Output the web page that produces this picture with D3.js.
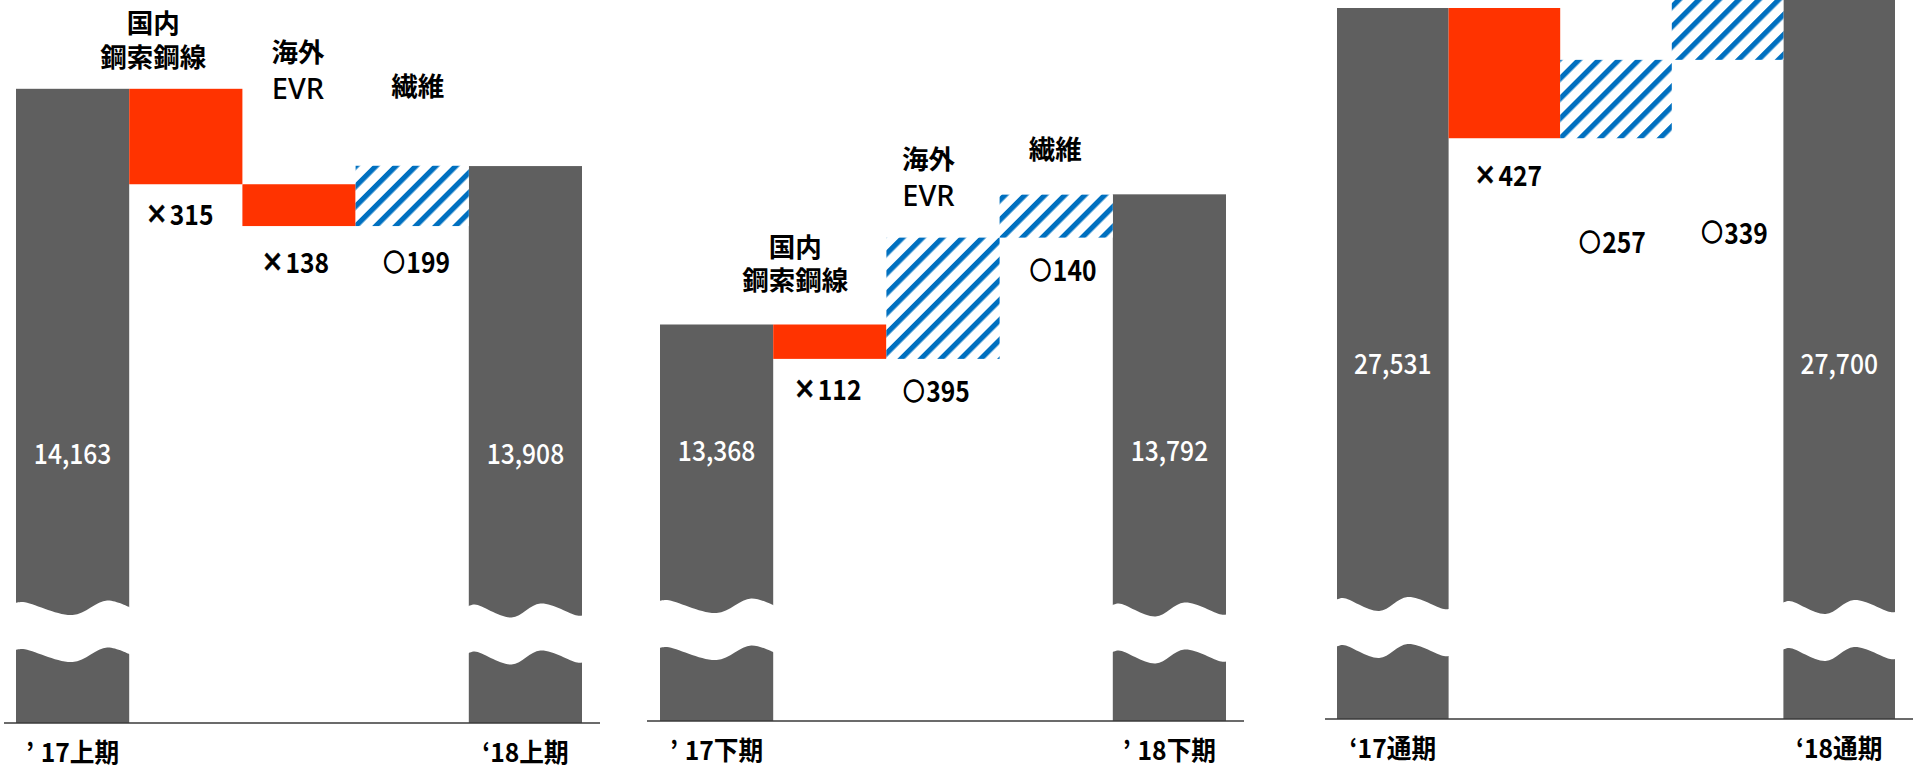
<!DOCTYPE html>
<html><head><meta charset="utf-8">
<script src="https://cdn.jsdelivr.net/npm/d3@7"></script>
<style>
html,body{margin:0;padding:0;background:#fff;overflow:hidden}
svg{display:block}
.cjk{font-family:"Noto Sans CJK JP","Noto Sans",sans-serif}
.num{font-family:"Noto Sans CJK JP","Noto Sans",sans-serif}
.lat{font-family:"Noto Sans","Liberation Sans",sans-serif}
</style></head><body>
<svg id="chart" width="1920" height="767"></svg>
<script>
// ---------------- data ----------------
const startLabels = ["’17上期", "’17下期", "‘17通期"];
const endLabels   = ["‘18上期", "’18下期", "‘18通期"];
const startValues = [14163, 13368, 27531];
const endValues   = [13908, 13792, 27700];
const stepCategories = [["国内", "鋼索鋼線"], ["海外", "EVR"], ["繊維"]];
const stepDeltas = [
  [-315, -138, 199],
  [-112, 395, 140],
  [-427, 257, 339]
];

// ---------------- layout (positions / styles only) ----------------
const layout = [
  {x: [16, 582],   axisY: 723, axisX: [4, 600],     anchor: 88.8,  k: 0.303, valueY: 452, breakY: [608, 610.5], wave: ["A", "B"], showCats: true},
  {x: [660, 1226], axisY: 721, axisX: [647, 1244],  anchor: 324.5, k: 0.307, valueY: 449, breakY: [606, 609.5], wave: ["A", "B"], showCats: true},
  {x: [1337, 1895],axisY: 719, axisX: [1325, 1913], anchor: 8,     k: 0.305, valueY: 362, breakY: [604, 607],   wave: ["B", "B"], showCats: false}
];
const catOffsets = [
  [{dx: -32.5, dy: [-67.5, -33]}, {dx: -1, dy: [-133.5, -96.5]}, {dx: 5.5, dy: [-81]}],
  [{dx: -34.5, dy: [-79.5, -46.5]}, {dx: -14.5, dy: [-80.6, -43.6]}, {dx: -1, dy: [-47.6]}],
  [null, null, null]
];
const chgOffsets = [
  [{dx: -6.5, dy: 28.5}, {dx: -4, dy: 34.5}, {dx: 4.5, dy: 34.5}],
  [{dx: -2.5, dy: 28.3}, {dx: -6.5, dy: 30.3}, {dx: 7, dy: 30.4}],
  [{dx: 3.5, dy: 34.8}, {dx: -3.5, dy: 101.8}, {dx: 7, dy: 171}]
];
const waveShapes = {
  A: [[0, -5], [0.07, -6], [0.5, 7], [0.8, -7.5], [1, -0.5]],
  B: [[0, -4], [0.06, -6], [0.38, 7], [0.63, -7], [0.95, 5], [1, 5]]
};
const BREAK_GAP = 47;
const NUM_SX = 0.88; // condensed look of the digits
const COLORS = {total: "#5F5F5F", down: "#FF3300", up: "url(#hatch)", axis: "#3a3a3a"};

// ---------------- drawing ----------------
const svg = d3.select("#chart");
const defs = svg.append("defs");
const pat = defs.append("pattern").attr("id", "hatch")
  .attr("patternUnits", "userSpaceOnUse")
  .attr("width", 14.1).attr("height", 14.1)
  .attr("patternTransform", "rotate(45)");
pat.append("rect").attr("width", 14.1).attr("height", 14.1).attr("fill", "#fff");
pat.append("rect").attr("width", 5.2).attr("height", 14.1).attr("fill", "#0070C0");

const curve = d3.line().curve(d3.curveCatmullRom.alpha(0.5));

function breakPath(x0, x1, c, shape) {
  const w = (x1 + 1) - (x0 - 1);
  const up = waveShapes[shape].map(([t, d]) => [x0 - 1 + t * w, c + d]);
  const lo = waveShapes[shape].map(([t, d]) => [x0 - 1 + t * w, c + BREAK_GAP + d]).reverse();
  return curve(up) + "L" + curve(lo).slice(1) + "Z";
}

layout.forEach((L, p) => {
  const g = svg.append("g");
  const x = d3.scaleBand().domain(d3.range(5)).range(L.x).paddingInner(0).paddingOuter(0);
  const y = d3.scaleLinear()
    .domain([startValues[p], startValues[p] - 1000])
    .range([L.anchor, L.anchor + 1000 * L.k]);

  // totals
  const totals = [
    {i: 0, v: startValues[p], label: startLabels[p], wave: L.wave[0], br: L.breakY[0]},
    {i: 4, v: endValues[p],   label: endLabels[p],   wave: L.wave[1], br: L.breakY[1]}
  ];
  g.selectAll("rect.total").data(totals).join("rect")
    .attr("class", "total")
    .attr("x", d => x(d.i)).attr("width", x.bandwidth())
    .attr("y", d => y(d.v)).attr("height", d => L.axisY - y(d.v))
    .attr("fill", COLORS.total);
  g.selectAll("path.brk").data(totals).join("path")
    .attr("class", "brk")
    .attr("d", d => breakPath(x(d.i), x(d.i) + x.bandwidth(), d.br, d.wave))
    .attr("fill", "#fff");

  // steps
  let run = startValues[p];
  const steps = stepDeltas[p].map((d, j) => {
    const a = run, b = run + d; run = b;
    return {j, d, top: Math.min(y(a), y(b)), bot: Math.max(y(a), y(b))};
  });
  g.selectAll("rect.step").data(steps).join("rect")
    .attr("class", "step")
    .attr("x", s => x(s.j + 1)).attr("width", x.bandwidth())
    .attr("y", s => s.top).attr("height", s => s.bot - s.top)
    .attr("fill", s => s.d < 0 ? COLORS.down : COLORS.up);

  // axis baseline
  g.append("line")
    .attr("x1", L.axisX[0]).attr("x2", L.axisX[1])
    .attr("y1", L.axisY).attr("y2", L.axisY)
    .attr("stroke", COLORS.axis).attr("stroke-width", 1.6);

  // total value labels
  g.selectAll("text.tv").data(totals).join("text")
    .attr("class", "tv num")
    .attr("transform", d => `translate(${x(d.i) + x.bandwidth() / 2},${L.valueY}) scale(${NUM_SX},1)`)
    .attr("text-anchor", "middle").attr("dominant-baseline", "central")
    .attr("fill", "#fff").attr("font-size", 28).attr("font-weight", 500)
    .text(d => d3.format(",")(d.v));

  // period labels
  g.selectAll("text.pl").data(totals).join("text")
    .attr("class", "pl cjk")
    .attr("transform", d => `translate(${x(d.i) + x.bandwidth() / 2},${L.axisY + 28}) scale(0.95,1)`)
    .attr("text-anchor", "middle").attr("dominant-baseline", "central")
    .attr("fill", "#000").attr("font-size", 26).attr("font-weight", "bold")
    .each(function (d) {
      const t = d3.select(this);
      const q = d.label.slice(0, 1);
      t.append("tspan").text(q);
      t.append("tspan").attr("dx", q === "’" ? 7 : 0).text(d.label.slice(1));
    });

  // change labels
  steps.forEach(s => {
    const o = chgOffsets[p][s.j];
    const t = g.append("text")
      .attr("transform", `translate(${x(s.j + 1) + x.bandwidth() / 2 + o.dx},${s.bot + o.dy}) scale(${NUM_SX},1)`)
      .attr("text-anchor", "middle").attr("dominant-baseline", "central")
      .attr("font-size", 28).attr("font-weight", "bold").attr("fill", "#000");
    t.append("tspan").attr("class", "cjk")
      .attr("font-size", s.d < 0 ? 26 : 24).attr("font-weight", 900)
      .attr("stroke", "#000").attr("stroke-width", s.d < 0 ? 0.6 : 1.3)
      .text(s.d < 0 ? "×" : "○");
    t.append("tspan").attr("class", "num").attr("dx", 2).text(Math.abs(s.d));
  });

  // category labels
  if (L.showCats) {
    steps.forEach(s => {
      const o = catOffsets[p][s.j];
      if (!o) return;
      stepCategories[s.j].forEach((line, li) => {
        const isLatin = /^[A-Za-z]+$/.test(line);
        g.append("text")
          .attr("class", isLatin ? "lat" : "cjk")
          .attr("x", x(s.j + 1) + x.bandwidth() / 2 + o.dx).attr("y", s.top + o.dy[li])
          .attr("text-anchor", "middle").attr("dominant-baseline", "central")
          .attr("font-size", isLatin ? 29 : 26.5).attr("font-weight", isLatin ? 500 : "bold")
          .attr("fill", "#000")
          .text(line);
      });
    });
  }
});
</script>
</body></html>
